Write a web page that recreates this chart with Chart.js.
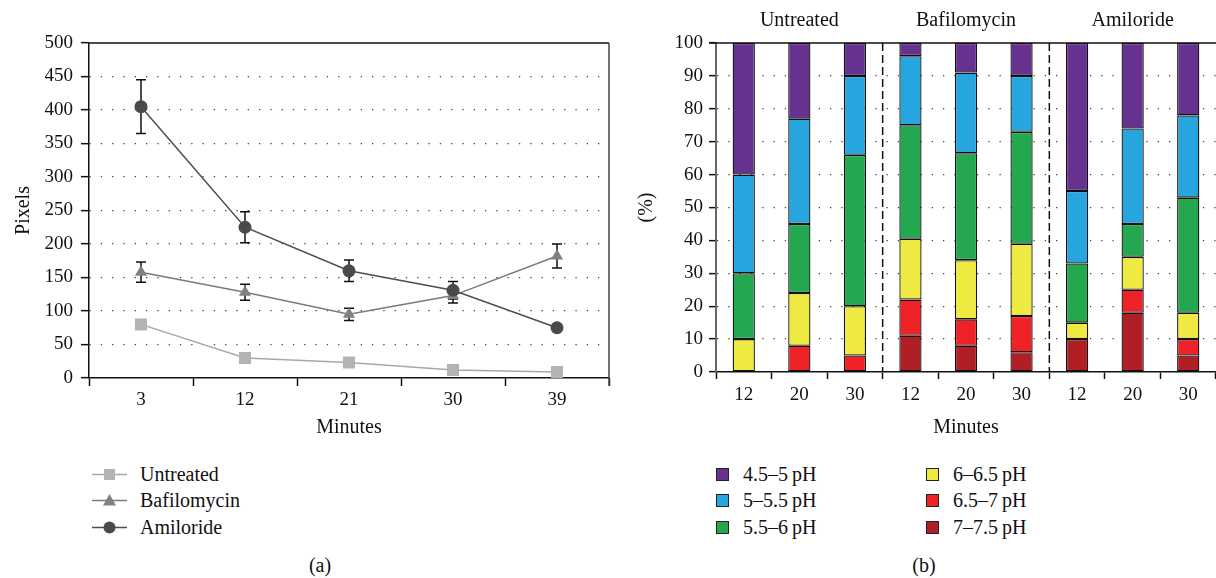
<!DOCTYPE html>
<html>
<head>
<meta charset="utf-8">
<script src="https://cdn.jsdelivr.net/npm/chart.js@4/dist/chart.umd.min.js"></script>
<style>
body { margin: 0; background: #fff; width: 1216px; height: 578px; position: relative; overflow: hidden; font-family: "Liberation Serif", serif; color: #111; }
#chart-a { position: absolute; left: 0; top: 0; }
#chart-b { position: absolute; left: 630px; top: 0; }
.legend { position: absolute; font-size: 20px; }
.legend .row { height: 26.5px; display: flex; align-items: center; white-space: nowrap; }
.legend svg { margin-right: 12px; }
.box { width: 11px; height: 11px; border: 1px solid #222; margin-right: 14px; }
.panel-tag { position: absolute; font-size: 20px; transform: translateX(-50%); }
</style>
</head>
<body>
<canvas id="chart-a" width="625" height="440"></canvas>
<canvas id="chart-b" width="586" height="440"></canvas>
<div id="legend-a" class="legend" style="left:92px;top:461px"></div>
<div id="legend-b1" class="legend" style="left:716px;top:461px"></div>
<div id="legend-b2" class="legend" style="left:926px;top:461px"></div>
<div class="panel-tag" style="left:320px;top:554px">(a)</div>
<div class="panel-tag" style="left:924px;top:554px">(b)</div>
<script>
// ---- (a) pixels over time ----
const minutesA = ['3', '12', '21', '30', '39'];
const untreated = [80, 30, 23, 12, 9];
const bafilomycin = [158, 128, 95, 123, 182];
const bafilomycinErr = [15, 12, 9, 11, 18];
const amiloride = [405, 225, 160, 131, 75];
const amilorideErr = [40, 23, 16, 13, 4];

// ---- (b) pH distribution ----
const minutesB = ['12', '20', '30', '12', '20', '30', '12', '20', '30'];
const treatments = ['Untreated', 'Bafilomycin', 'Amiloride'];
const ph70_75 = [0, 0, 0, 11, 8, 6, 10, 18, 5];
const ph65_70 = [0, 8, 5, 11, 8, 11, 0, 7, 5];
const ph60_65 = [10, 16, 15, 18.5, 18, 22, 5, 10, 8];
const ph55_60 = [20, 21, 46, 34.5, 32.5, 34, 18, 10, 35];
const ph50_55 = [30, 32, 24, 21, 24.5, 17, 22, 29, 25];
const ph45_50 = [40, 23, 10, 4, 9, 10, 45, 26, 22];
const phLabels = ['4.5–5\u2009pH', '5–5.5\u2009pH', '5.5–6\u2009pH', '6–6.5\u2009pH', '6.5–7\u2009pH', '7–7.5\u2009pH'];

Chart.defaults.font.family = '"Liberation Serif", serif';
Chart.defaults.color = '#111';

const errorBars = {
    id: 'errorBars',
    beforeDatasetsDraw(chart) {
        const { ctx, scales: { x, y } } = chart;
        ctx.save();
        ctx.strokeStyle = '#111';
        ctx.lineWidth = 1.5;
        chart.data.datasets.forEach(ds => {
            if (!ds.errors) return;
            ds.data.forEach((v, i) => {
                const px = x.getPixelForValue(i);
                const top = y.getPixelForValue(v + ds.errors[i]);
                const bot = y.getPixelForValue(v - ds.errors[i]);
                ctx.beginPath();
                ctx.moveTo(px, top); ctx.lineTo(px, bot);
                ctx.moveTo(px - 5, top); ctx.lineTo(px + 5, top);
                ctx.moveTo(px - 5, bot); ctx.lineTo(px + 5, bot);
                ctx.stroke();
            });
        });
        ctx.restore();
    }
};

const frameA = {
    id: 'frameA',
    afterDraw(chart) {
        const { ctx, chartArea: a } = chart;
        ctx.save();
        ctx.lineWidth = 1.5;
        ctx.strokeStyle = '#111';
        ctx.beginPath();
        ctx.moveTo(a.left, a.top); ctx.lineTo(a.right, a.top);
        ctx.stroke();
        ctx.strokeStyle = '#444';
        ctx.beginPath();
        ctx.moveTo(a.right, a.top); ctx.lineTo(a.right, a.bottom + 8);
        ctx.stroke();
        ctx.restore();
    }
};

const dotted = (top) => ctx => (ctx.tick.value === 0 || ctx.tick.value === top) ? 'rgba(0,0,0,0)' : '#444';

new Chart(document.getElementById('chart-a'), {
    type: 'line',
    data: {
        labels: minutesA,
        datasets: [
            { label: 'Untreated', data: untreated, order: 2, borderColor: '#a8a8a8', backgroundColor: '#b3b3b3', borderWidth: 1.5, pointStyle: 'rect', pointRadius: 8.5, pointBorderWidth: 0 },
            { label: 'Bafilomycin', data: bafilomycin, errors: bafilomycinErr, order: 1, borderColor: '#7a7a7a', backgroundColor: '#808080', borderWidth: 1.5, pointStyle: 'triangle', pointRadius: 7, pointBorderWidth: 0 },
            { label: 'Amiloride', data: amiloride, errors: amilorideErr, order: 0, borderColor: '#4d4d4d', backgroundColor: '#4a4a4a', borderWidth: 1.5, pointStyle: 'circle', pointRadius: 6.5, pointBorderWidth: 0 }
        ]
    },
    options: {
        responsive: false,
        animation: false,
        layout: { padding: { left: 0, right: 16, top: 43, bottom: 0 } },
        plugins: { legend: { display: false }, tooltip: { enabled: false } },
        scales: {
            x: {
                offset: true,
                grid: { offset: true, drawOnChartArea: false, tickLength: 8, tickColor: '#111', tickWidth: 1.5 },
                border: { color: '#111', width: 1.5 },
                ticks: { font: { size: 19 }, padding: 3, color: '#111' },
                title: { display: true, text: 'Minutes', font: { size: 20 }, padding: 0, color: '#111' },
                afterFit: s => { s.height = 62; }
            },
            y: {
                min: 0, max: 500,
                ticks: { stepSize: 50, font: { size: 19 }, padding: 8, color: '#111' },
                grid: { color: dotted(500), lineWidth: 1.3, tickLength: 8, tickColor: '#111', tickWidth: 1.5 },
                border: { color: '#111', width: 1.5, dash: [1.3, 10] },
                title: { display: true, text: 'Pixels', font: { size: 20 }, padding: { top: 12, bottom: 0 }, color: '#111' },
                afterFit: s => { s.width = 89; }
            }
        }
    },
    plugins: [errorBars, frameA]
});

const groupMarks = {
    id: 'groupMarks',
    afterDraw(chart) {
        const { ctx, chartArea: a, scales: { x } } = chart;
        ctx.save();
        ctx.strokeStyle = '#111';
        ctx.lineWidth = 1.5;
        ctx.beginPath();
        ctx.moveTo(a.left - 7, a.top); ctx.lineTo(a.right, a.top);
        ctx.stroke();
        ctx.setLineDash([8, 4]);
        [2, 5].forEach(i => {
            const px = (x.getPixelForValue(i) + x.getPixelForValue(i + 1)) / 2;
            ctx.beginPath();
            ctx.moveTo(px, a.top); ctx.lineTo(px, a.bottom);
            ctx.stroke();
        });
        ctx.setLineDash([]);
        ctx.fillStyle = '#111';
        ctx.font = '20px "Liberation Serif", serif';
        ctx.textAlign = 'center';
        ctx.textBaseline = 'middle';
        treatments.forEach((t, g) => {
            ctx.fillText(t, x.getPixelForValue(g * 3 + 1), 21);
        });
        ctx.restore();
    }
};

// legend order (top to bottom of stack)
const phColors = ['#66318f', '#26a5df', '#23a74f', '#eeea41', '#ee2227', '#b01f24'];
const phSeries = [ph45_50, ph50_55, ph55_60, ph60_65, ph65_70, ph70_75];

// stack is built from the first dataset upward, so start with 7–7.5 pH
const stackIdx = [5, 4, 3, 2, 1, 0];

new Chart(document.getElementById('chart-b'), {
    type: 'bar',
    data: {
        labels: minutesB,
        datasets: stackIdx.map(i => ({
            label: phLabels[i],
            data: phSeries[i],
            backgroundColor: phColors[i],
            borderColor: '#111',
            borderWidth: 1.3,
            borderSkipped: false,
            barPercentage: 0.4,
            categoryPercentage: 1
        }))
    },
    options: {
        responsive: false,
        animation: false,
        layout: { padding: { left: 0, right: 0, top: 43, bottom: 0 } },
        plugins: { legend: { display: false }, tooltip: { enabled: false } },
        scales: {
            x: {
                stacked: true,
                offset: true,
                grid: { offset: true, drawOnChartArea: false, tickLength: 7, tickColor: '#111', tickWidth: 1.5 },
                border: { color: '#111', width: 1.5 },
                ticks: { font: { size: 19 }, padding: 5, color: '#111' },
                title: { display: true, text: 'Minutes', font: { size: 20 }, padding: 0, color: '#111' },
                afterFit: s => { s.height = 68; }
            },
            y: {
                stacked: true,
                min: 0, max: 100,
                ticks: { stepSize: 10, font: { size: 19 }, padding: 6, color: '#111' },
                grid: { color: dotted(100), lineWidth: 1.3, tickLength: 7, tickColor: '#111', tickWidth: 1.5 },
                border: { color: '#666', width: 2, dash: [1.3, 10] },
                title: { display: true, text: '(%)', font: { size: 20 }, padding: { top: 5, bottom: 0 }, color: '#111' },
                afterFit: s => { s.width = 86; }
            }
        }
    },
    plugins: [groupMarks]
});

// legends
const legA = [
    { label: 'Untreated', line: '#a8a8a8', fill: '#b3b3b3', shape: '<rect x="12" y="5" width="11" height="11"/>' },
    { label: 'Bafilomycin', line: '#7a7a7a', fill: '#808080', shape: '<polygon points="17.5,4 24,15.5 11,15.5"/>' },
    { label: 'Amiloride', line: '#4d4d4d', fill: '#4a4a4a', shape: '<circle cx="17.5" cy="10.5" r="6"/>' }
];
document.getElementById('legend-a').innerHTML = legA.map(l =>
    `<div class="row"><svg width="36" height="21"><line x1="0" y1="10.5" x2="35" y2="10.5" stroke="${l.line}" stroke-width="1.5"/><g fill="${l.fill}">${l.shape}</g></svg>${l.label}</div>`
).join('');
const legRow = i => `<div class="row"><div class="box" style="background:${phColors[i]}"></div>${phLabels[i]}</div>`;
document.getElementById('legend-b1').innerHTML = [0, 1, 2].map(legRow).join('');
document.getElementById('legend-b2').innerHTML = [3, 4, 5].map(legRow).join('');
</script>
</body>
</html>
